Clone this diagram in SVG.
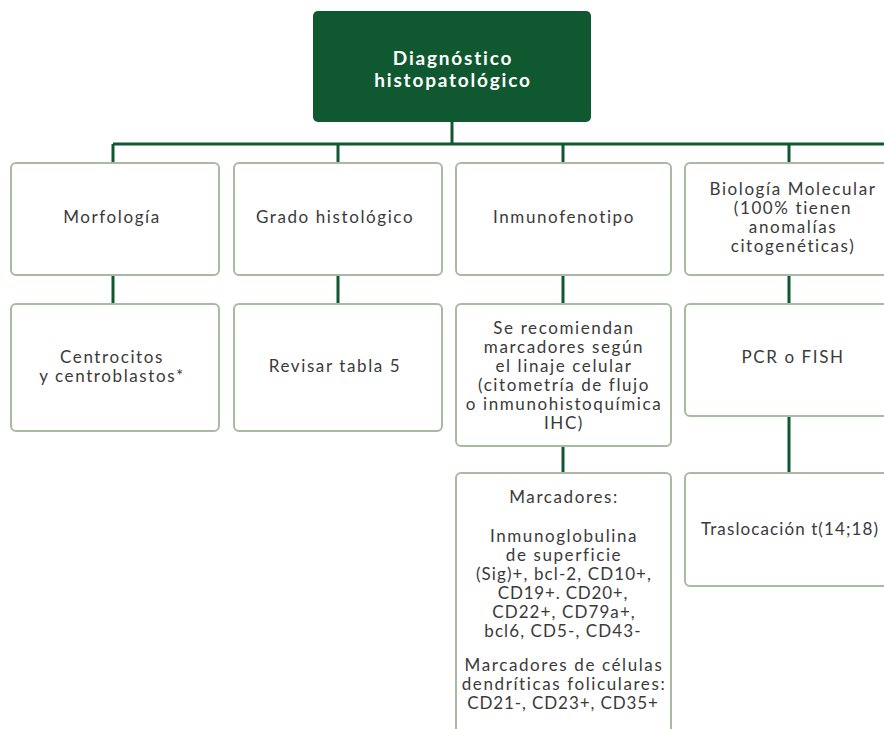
<svg xmlns="http://www.w3.org/2000/svg" width="884" height="729" viewBox="0 0 884 729">
<style>
.box{fill:#ffffff;stroke:#a9baa3;stroke-width:2}
.root{fill:#10582f;stroke:none}
.t{font-family:Lato,"Noto Sans",sans-serif;font-size:17px;letter-spacing:1.6px;fill:#3a3a3a;text-anchor:middle}
.n{letter-spacing:1.1px}
.rt{font-family:Lato,"Noto Sans",sans-serif;font-size:19px;letter-spacing:1.8px;font-weight:bold;fill:#ffffff;text-anchor:middle}
.c{stroke:#10582f;stroke-width:3;fill:none}
</style>
<rect width="884" height="729" fill="#ffffff"/>
<g id="connectors">
<path class="c" d="M452 121V144M113 144H886M113 144V164M338 144V164M563 144V164M789 144V164"/>
<path class="c" d="M113 275V304M338 275V304M563 275V304M789 275V304M563 446V473M789 416V473"/>
</g>
<g id="root">
<rect class="root" x="313" y="11" width="278" height="111" rx="5"/>
<text class="rt" x="453" y="65">Diagnóstico</text>
<text class="rt" x="453" y="87">histopatológico</text>
</g>
<g id="morfologia">
<rect class="box" x="11" y="163" width="208" height="112" rx="5"/>
<text class="t" x="112" y="223">Morfología</text>
</g>
<g id="grado">
<rect class="box" x="234" y="163" width="208" height="112" rx="5"/>
<text class="t" x="335" y="223">Grado histológico</text>
</g>
<g id="inmunofenotipo">
<rect class="box" x="456" y="163" width="215" height="112" rx="5"/>
<text class="t" x="564" y="223">Inmunofenotipo</text>
</g>
<g id="biologia">
<rect class="box" x="685" y="163" width="215" height="112" rx="5"/>
<text class="t" x="793" y="195">Biología Molecular</text>
<text class="t" x="793" y="214">(100% tienen</text>
<text class="t" x="793" y="233">anomalías</text>
<text class="t" x="793" y="252">citogenéticas)</text>
</g>
<g id="centrocitos">
<rect class="box" x="11" y="304" width="208" height="127" rx="5"/>
<text class="t" x="112" y="363">Centrocitos</text>
<text class="t" x="112" y="382">y centroblastos*</text>
</g>
<g id="revisar">
<rect class="box" x="234" y="304" width="208" height="127" rx="5"/>
<text class="t" x="335" y="372">Revisar tabla 5</text>
</g>
<g id="recomiendan">
<rect class="box" x="456" y="304" width="215" height="142" rx="5"/>
<text class="t" x="564" y="334">Se recomiendan</text>
<text class="t" x="564" y="353">marcadores según</text>
<text class="t" x="564" y="372">el linaje celular</text>
<text class="t" x="564" y="391">(citometría de flujo</text>
<text class="t" x="564" y="410">o inmunohistoquímica</text>
<text class="t" x="564" y="429">IHC)</text>
</g>
<g id="pcr">
<rect class="box" x="685" y="304" width="215" height="112" rx="5"/>
<text class="t" x="793" y="363">PCR o FISH</text>
</g>
<g id="marcadores">
<rect class="box" x="456" y="473" width="215" height="280" rx="5"/>
<text class="t" x="564" y="503">Marcadores:</text>
<text class="t" x="564" y="542">Inmunoglobulina</text>
<text class="t" x="564" y="561">de superficie</text>
<text class="t n" x="564" y="580">(Sig)+, bcl-2, CD10+,</text>
<text class="t" x="563" y="599" style="letter-spacing:0.8px">CD19+. CD20+,</text>
<text class="t n" x="564" y="618">CD22+, CD79a+,</text>
<text class="t n" x="563" y="637">bcl6, CD5-, CD43-</text>
<text class="t" x="564" y="671">Marcadores de células</text>
<text class="t" x="564" y="690">dendríticas foliculares:</text>
<text class="t" x="563" y="709" style="letter-spacing:0.9px">CD21-, CD23+, CD35+</text>
</g>
<g id="traslocacion">
<rect class="box" x="685" y="473" width="215" height="113" rx="5"/>
<text class="t n" x="790" y="535">Traslocación t(14;18)</text>
</g>
</svg>
